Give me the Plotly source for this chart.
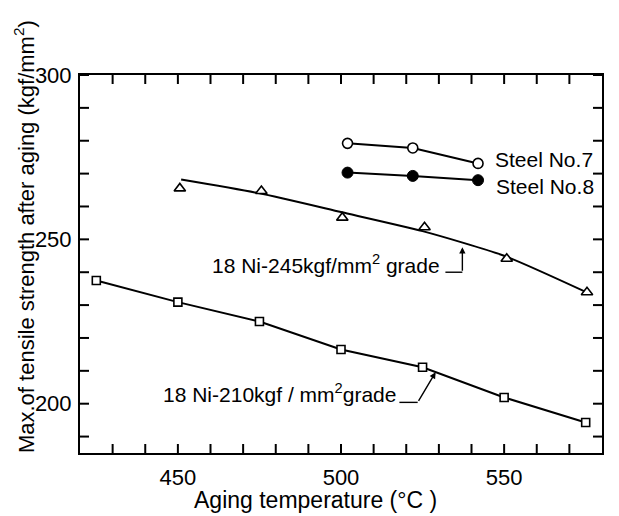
import plotly.graph_objects as go

# ---- data ----
sq_x = [425, 450, 475, 500, 525, 550, 575]
sq_y = [237.5, 230.9, 225.0, 216.5, 211.1, 201.9, 194.3]

tri_x = [450.6, 475.6, 500.4, 525.6, 550.8, 575.4]
tri_y = [265.5, 264.7, 256.6, 253.7, 244.1, 233.9]

fit245_x = [451, 475, 500, 525, 550, 575]
fit245_y = [268.2, 264.0, 258.3, 252.5, 245.0, 234.0]

s7_x = [502, 522, 542]
s7_y = [279.2, 277.8, 273.1]

s8_x = [502, 522, 542]
s8_y = [270.3, 269.3, 268.0]

x_labels = [450, 500, 550]
y_labels = [200, 250, 300]
x_tick_step = 10
y_tick_step = 10

FONT = "Liberation Sans"
FS = 21
BLACK = "#000000"
TICKLEN = 9

W, H = 619, 516
ML, MR, MT, MB = 80, 17, 75, 63
XR = [420, 580]
YR = [185, 300]

fig = go.Figure()

fig.add_trace(go.Scatter(x=fit245_x, y=fit245_y, mode="lines",
                         line=dict(color=BLACK, width=2, shape="spline", smoothing=0.6),
                         showlegend=False, hoverinfo="skip"))
fig.add_trace(go.Scatter(x=tri_x, y=tri_y, mode="markers",
                         marker=dict(symbol="triangle-up", size=10, color="white",
                                     line=dict(color=BLACK, width=1.6)),
                         showlegend=False))
fig.add_trace(go.Scatter(x=sq_x, y=sq_y, mode="lines+markers",
                         line=dict(color=BLACK, width=2),
                         marker=dict(symbol="square", size=8, color="white",
                                     line=dict(color=BLACK, width=1.6)),
                         showlegend=False))
fig.add_trace(go.Scatter(x=s7_x, y=s7_y, mode="lines+markers",
                         line=dict(color=BLACK, width=2),
                         marker=dict(symbol="circle", size=10, color="white",
                                     line=dict(color=BLACK, width=1.6)),
                         showlegend=False))
fig.add_trace(go.Scatter(x=s8_x, y=s8_y, mode="lines+markers",
                         line=dict(color=BLACK, width=2),
                         marker=dict(symbol="circle", size=11, color=BLACK,
                                     line=dict(color=BLACK, width=1)),
                         showlegend=False))

# inward tick marks on all four sides, drawn as one line trace
x_minor = list(range(430, 571, x_tick_step))
y_minor = list(range(190, 301, y_tick_step))
dx = TICKLEN * (XR[1] - XR[0]) / (W - ML - MR)   # tick length in x units
dy = TICKLEN * (YR[1] - YR[0]) / (H - MT - MB)   # tick length in y units
tx, ty = [], []
for v in x_minor:
    tx += [v, v, None, v, v, None]
    ty += [YR[0], YR[0] + dy, None, YR[1], YR[1] - dy, None]
for v in y_minor:
    tx += [XR[0], XR[0] + dx, None, XR[1], XR[1] - dx, None]
    ty += [v, v, None, v, v, None]
fig.add_trace(go.Scatter(x=tx, y=ty, mode="lines", line=dict(color=BLACK, width=2),
                         showlegend=False, hoverinfo="skip", cliponaxis=False))

axis_common = dict(showline=True, linecolor=BLACK, linewidth=2, mirror=True,
                   ticks="", showgrid=False, zeroline=False,
                   tickfont=dict(family=FONT, size=22, color=BLACK))

fig.update_xaxes(range=XR, tickmode="array", tickvals=x_labels,
                 ticktext=[str(v) for v in x_labels], ticklabelstandoff=4, **axis_common)
fig.update_yaxes(range=YR, tickmode="array", tickvals=y_labels,
                 ticktext=[str(v) for v in y_labels], ticklabelstandoff=2, **axis_common)

annots = [
    dict(text="Aging temperature (°C )", xref="paper", yref="paper", x=0.452, y=-0.124,
         xanchor="center", yanchor="middle", showarrow=False, size=23),
    dict(text="Max.of tensile strength after aging (kgf/mm<sup>2</sup>)", xref="paper",
         yref="paper", x=-0.106, y=-0.005, xanchor="center", yanchor="bottom",
         textangle=-90, showarrow=False, size=22),
    dict(text="Steel No.7", x=546.5, y=274.2, xanchor="left", yanchor="middle", showarrow=False),
    dict(text="Steel No.8", x=547, y=266.2, xanchor="left", yanchor="middle", showarrow=False),
    dict(text="18 Ni-245kgf/mm<sup>2</sup> grade", x=531.1, y=242.4, xanchor="right",
         yanchor="middle", showarrow=False),
    dict(text="18 Ni-210kgf / mm<sup>2</sup>grade", x=517.4, y=203.4, xanchor="right",
         yanchor="middle", showarrow=False),
    dict(text="", x=537.2, y=247.6, ax=537.2, ay=240.0, axref="x", ayref="y",
         showarrow=True, arrowhead=2, arrowsize=0.9, arrowwidth=1.4, arrowcolor=BLACK),
    dict(text="", x=529.0, y=209.6, ax=523.5, ay=200.4, axref="x", ayref="y",
         showarrow=True, arrowhead=2, arrowsize=0.9, arrowwidth=1.4, arrowcolor=BLACK),
]
for a in annots:
    a.setdefault("xref", "x")
    a.setdefault("yref", "y")
    size = a.pop("size", FS)
    a["font"] = dict(family=FONT, size=size, color=BLACK)
fig.update_layout(annotations=annots)

fig.add_shape(type="line", x0=532.0, x1=537.2, y0=240.0, y1=240.0,
              line=dict(color=BLACK, width=1.4))
fig.add_shape(type="line", x0=517.9, x1=523.5, y0=200.4, y1=200.4,
              line=dict(color=BLACK, width=1.4))

fig.update_layout(width=W, height=H, margin=dict(l=ML, r=MR, t=MT, b=MB),
                  plot_bgcolor="white", paper_bgcolor="white",
                  font=dict(family=FONT, size=FS, color=BLACK))

fig.write_html("out.html")
